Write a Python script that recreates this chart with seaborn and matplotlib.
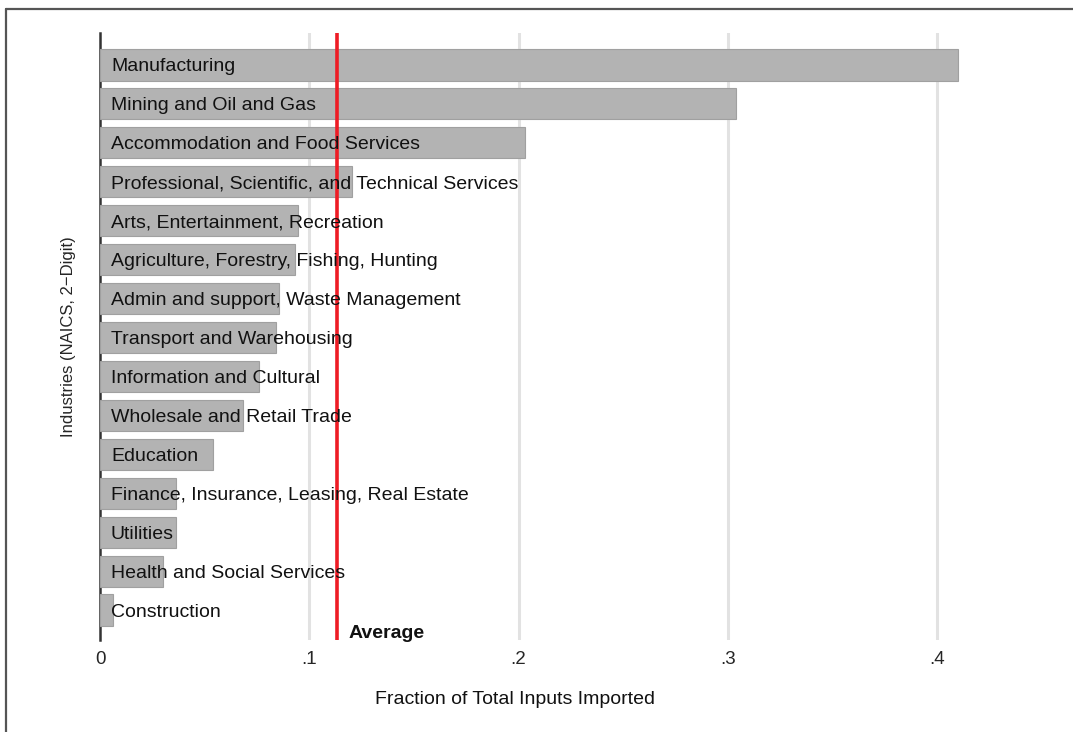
import matplotlib
matplotlib.use("Agg")
import matplotlib.pyplot as plt
import pandas as pd
import seaborn as sns
from matplotlib.lines import Line2D

industries = [
    "Manufacturing",
    "Mining and Oil and Gas",
    "Accommodation and Food Services",
    "Professional, Scientific, and Technical Services",
    "Arts, Entertainment, Recreation",
    "Agriculture, Forestry, Fishing, Hunting",
    "Admin and support, Waste Management",
    "Transport and Warehousing",
    "Information and Cultural",
    "Wholesale and Retail Trade",
    "Education",
    "Finance, Insurance, Leasing, Real Estate",
    "Utilities",
    "Health and Social Services",
    "Construction",
]
fraction_imported = [0.410, 0.304, 0.203, 0.1205, 0.0947, 0.0933, 0.0856, 0.0842,
                     0.0761, 0.0684, 0.0541, 0.0364, 0.0364, 0.0301, 0.0062]
average_share = 0.1134
tick_values = [0, 0.1, 0.2, 0.3, 0.4]
tick_labels = ["0", ".1", ".2", ".3", ".4"]

df = pd.DataFrame({"Industry": industries, "Fraction": fraction_imported})

sns.set_style("white")
plt.rcParams["font.family"] = ["Liberation Sans", "DejaVu Sans"]

W, H = 1073, 732
fig = plt.figure(figsize=(W / 100, H / 100), dpi=100)
x0_px, x04_px = 100, 937
px_per_unit = (x04_px - x0_px) / 0.4
xmax = 0.45
right_px = x0_px + xmax * px_per_unit
top_px, bottom_px = 33, 640
ax = fig.add_axes([x0_px / W, (H - bottom_px) / H, (right_px - x0_px) / W, (bottom_px - top_px) / H])

# gridlines first
for t in tick_values[1:]:
    ax.axvline(t, color="#e2e2e2", lw=2.2, zorder=0)

sns.barplot(data=df, y="Industry", x="Fraction", orient="h", color="#b3b3b3",
            saturation=1, width=0.8, edgecolor="#a0a0a0", linewidth=0.8, ax=ax, zorder=2)

ax.set_xlim(0, xmax)
ax.set_ylim(14.77, -0.82)

for i, name in enumerate(industries):
    ax.text(0.0052, i, name, va="center_baseline", ha="left", fontsize=14, color="#111111", zorder=4)

ax.axvline(average_share, color="#ee1c25", lw=2.6, zorder=3)
ax.text(average_share + 0.0052, 14.6, "Average", fontweight="bold", fontsize=14,
        va="center", ha="left", color="#111111")

for s in ["top", "right", "bottom"]:
    ax.spines[s].set_visible(False)
ax.spines["left"].set_color("#333333")
ax.spines["left"].set_linewidth(1.8)
ax.spines["left"].set_zorder(1)

ax.set_yticks([])
ax.set_xticks(tick_values)
ax.set_xticklabels(tick_labels, fontsize=13.5)
ax.tick_params(axis="x", length=2, color="#cccccc", pad=6)
ax.set_xlabel("")
ax.set_ylabel("Industries (NAICS, 2\u2212Digit)", fontsize=12, labelpad=17,
              family=["Liberation Sans Narrow", "Liberation Sans", "DejaVu Sans"])
fig.text(515 / W, 1 - 700 / H, "Fraction of Total Inputs Imported", fontsize=14,
         ha="center", va="center", color="#111111")

# outer frame of the graph region
fig.add_artist(Line2D([6 / W, 1], [1 - 9 / H, 1 - 9 / H], transform=fig.transFigure, color="#555555", lw=1.6))
fig.add_artist(Line2D([6 / W, 6 / W], [0, 1 - 9 / H], transform=fig.transFigure, color="#555555", lw=1.6))

fig.savefig("out.png", dpi=100)
